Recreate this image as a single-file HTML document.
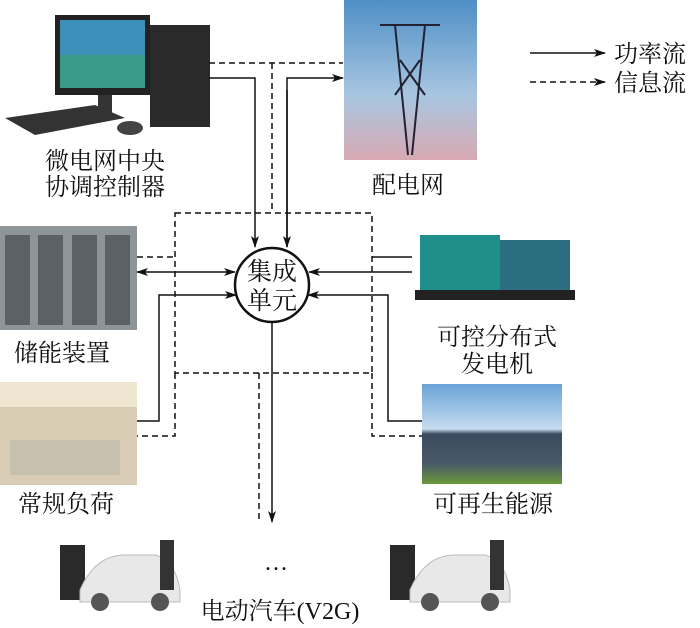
<!DOCTYPE html>
<html><head><meta charset="utf-8"><style>
body{margin:0;width:700px;height:628px;background:#fff;overflow:hidden;font-family:"Liberation Serif","Noto Serif CJK SC","Noto Sans CJK SC",serif}
svg{position:absolute;left:0;top:0}
</style></head><body>
<svg width="700" height="628" viewBox="0 0 700 628">
<defs>
<marker id="a" markerWidth="12" markerHeight="8" refX="11" refY="4" orient="auto" markerUnits="userSpaceOnUse"><path d="M0,0 L12,4 L0,8 L3,4z" fill="#111"/></marker>
<marker id="b" markerWidth="12" markerHeight="8" refX="1" refY="4" orient="auto" markerUnits="userSpaceOnUse"><path d="M12,0 L0,4 L12,8 L9,4z" fill="#111"/></marker>
<linearGradient id="sky" x1="0" y1="0" x2="0" y2="1"><stop offset="0" stop-color="#4f8fc6"/><stop offset="0.6" stop-color="#a9c6e0"/><stop offset="1" stop-color="#d8a9b3"/></linearGradient>
<linearGradient id="ren" x1="0" y1="0" x2="0" y2="1"><stop offset="0" stop-color="#6aa3d8"/><stop offset="0.45" stop-color="#c6dcef"/><stop offset="0.5" stop-color="#3a4a5e"/><stop offset="0.8" stop-color="#4a5a6a"/><stop offset="1" stop-color="#6a9a3a"/></linearGradient>
</defs>
<rect x="55" y="15" width="95" height="80" fill="#222"/>
<rect x="60" y="20" width="85" height="68" fill="#3c8fb8"/>
<rect x="60" y="55" width="85" height="33" fill="#3a9a8a"/>
<rect x="98" y="95" width="14" height="18" fill="#333"/>
<rect x="150" y="25" width="60" height="102" fill="#2a2a2a"/>
<polygon points="5,118 95,105 125,118 35,135" fill="#333"/>
<ellipse cx="130" cy="128" rx="13" ry="7" fill="#444"/>
<rect x="344" y="0" width="133" height="160" fill="url(#sky)"/>
<path d="M380,25 L440,25 M395,25 L408,155 M425,25 L412,155 M400,60 L425,95 M420,60 L395,95" stroke="#223" stroke-width="2" fill="none"/>
<rect x="0" y="226" width="137" height="104" fill="#8e9598"/>
<g fill="#5a6266"><rect x="5" y="235" width="25" height="90"/><rect x="38" y="235" width="25" height="90"/><rect x="72" y="235" width="25" height="90"/><rect x="105" y="235" width="25" height="90"/></g>
<rect x="420" y="235" width="80" height="58" fill="#1f8f8c"/>
<rect x="500" y="240" width="70" height="52" fill="#2a6e80"/>
<rect x="415" y="290" width="160" height="10" fill="#222"/>
<rect x="0" y="382" width="137" height="103" fill="#d9cdb6"/>
<rect x="0" y="382" width="137" height="25" fill="#efe6d2"/>
<rect x="10" y="440" width="110" height="35" fill="#c8c0ae"/>
<rect x="422" y="384" width="140" height="100" fill="url(#ren)"/>
<g transform="translate(55,530)"><rect x="5" y="15" width="25" height="55" fill="#2a2a2a"/><path d="M25,60 Q40,25 70,25 L100,25 Q120,30 125,60 L125,72 L25,72z" fill="#e8e8e8" stroke="#bbb"/><rect x="105" y="10" width="14" height="50" fill="#333"/><circle cx="45" cy="72" r="9" fill="#555"/><circle cx="105" cy="72" r="9" fill="#555"/></g>
<g transform="translate(385,530)"><rect x="5" y="15" width="25" height="55" fill="#2a2a2a"/><path d="M25,60 Q40,25 70,25 L100,25 Q120,30 125,60 L125,72 L25,72z" fill="#e8e8e8" stroke="#bbb"/><rect x="105" y="10" width="14" height="50" fill="#333"/><circle cx="45" cy="72" r="9" fill="#555"/><circle cx="105" cy="72" r="9" fill="#555"/></g>

<g fill="none" stroke="#111" stroke-width="1.5">
<g stroke-dasharray="6,4">
<path d="M209,63 L343,63 M272,63 L272,213"/>
<rect x="175" y="213" width="197" height="160"/>
<path d="M137,257 L175,257"/>
<path d="M175,373 L175,436 L137,436 M372,373 L372,436 L422,436"/>
<path d="M259,373 L259,522"/>
<path d="M530,82 L605,82" marker-end="url(#a)"/>
</g>
<path d="M209,78 L255,78 L255,247" marker-end="url(#a)"/>
<path d="M287,247 L287,78 L343,78" marker-end="url(#a)"/>
<path d="M287,90 L287,247" marker-end="url(#a)"/>
<path d="M137,272 L235,272" marker-start="url(#b)" marker-end="url(#a)"/>
<path d="M137,421 L159,421 L159,295 L236,295" marker-end="url(#a)"/>
<path d="M372,257 L412,257"/>
<path d="M412,272 L309,272" marker-end="url(#a)"/>
<path d="M422,421 L388,421 L388,295 L308,295" marker-end="url(#a)"/>
<path d="M272,322 L272,522" marker-end="url(#a)"/>
<path d="M530,53 L605,53" marker-end="url(#a)"/>
<circle cx="272" cy="285" r="37" stroke-width="2.5" fill="#fff"/>
</g>
<g font-size="24" fill="#111" text-anchor="middle">
<text x="272" y="280" font-size="25">集成</text><text x="272" y="309" font-size="25">单元</text>
<text x="105" y="169">微电网中央</text><text x="105" y="195">协调控制器</text>
<text x="408" y="193">配电网</text>
<text x="62" y="361">储能装置</text>
<text x="497" y="345">可控分布式</text><text x="497" y="372">发电机</text>
<text x="66" y="512">常规负荷</text>
<text x="493" y="512">可再生能源</text>
<text x="276" y="570">…</text>
<text x="280" y="619">电动汽车(V2G)</text>
</g>
<g font-size="24" fill="#111"><text x="614" y="62">功率流</text><text x="614" y="91">信息流</text></g>
</svg>
</body></html>
